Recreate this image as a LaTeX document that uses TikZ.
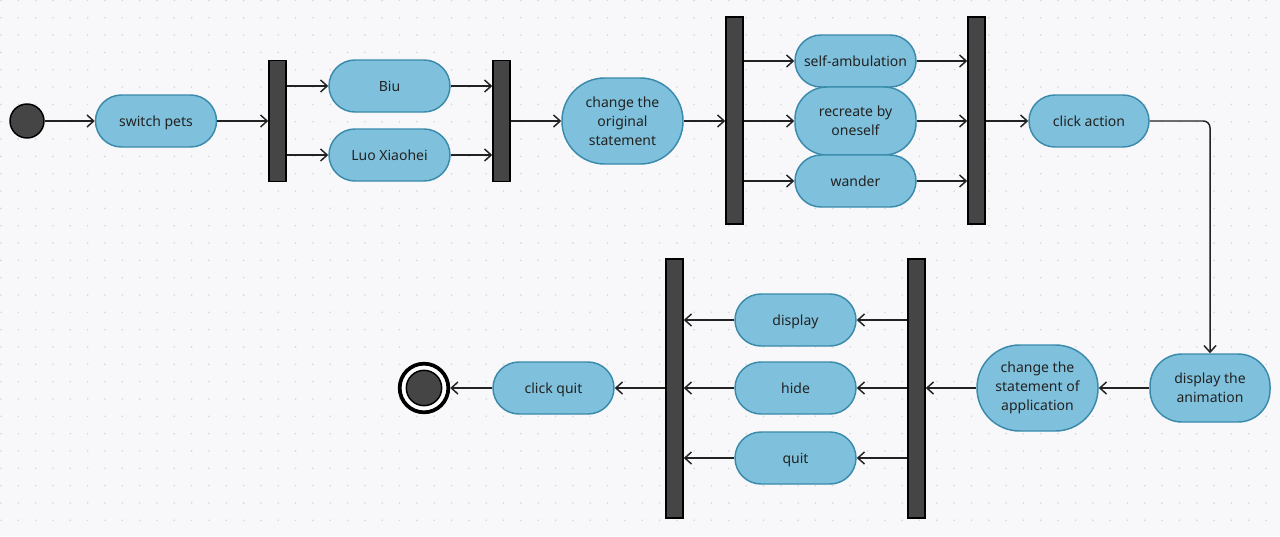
\documentclass[tikz,border=0pt]{standalone}
\usepackage{fontspec}
\setmainfont{Noto Sans}
\usetikzlibrary{arrows.meta}
\definecolor{bgc}{HTML}{F8F8FA}
\definecolor{dotc}{HTML}{D6D6DC}
\definecolor{actfill}{HTML}{7FC1DC}
\definecolor{actdraw}{HTML}{3A8AAB}
\definecolor{barfill}{HTML}{454545}
\definecolor{linec}{HTML}{222222}
\tikzset{
  act/.style={draw=actdraw, fill=actfill, line width=1.1pt, rounded corners=19.5pt,
    minimum width=90.75pt, minimum height=39pt, inner sep=0pt, align=center,
    text=linec, font=\fontsize{10.5}{14.25}\selectfont},
  actone/.style={act, text height=8pt, text depth=0pt},
  acttall/.style={act, minimum height=51pt, rounded corners=24pt},
  actoval/.style={act, minimum height=64.5pt, rounded corners=32pt},
  bar/.style={draw=black, fill=barfill, line width=1.1pt, minimum width=12.75pt, inner sep=0pt},
  arr/.style={draw=linec, line width=1.1pt, -{Straight Barb[length=5pt,width=9pt,line width=1.1pt]}},
}
\begin{document}
\begin{tikzpicture}[x=0.75pt,y=-0.75pt]
\fill[bgc] (0,0) rectangle (1280,536);
\useasboundingbox (0,0) rectangle (1280,536);
\foreach \i in {0,...,73}{
  \foreach \j in {0,...,30}{
    \fill[dotc] ({1+17.33*\i},{0.4+17.33*\j}) circle (0.9);
  }
}
% start
\node[circle, draw=black, fill=barfill, line width=1.1pt, minimum size=25.5pt, inner sep=0pt] (start) at (27,121) {};
\node[actone] (sp) at (156,121) {switch pets};
\node[bar, minimum height=90.75pt] (b1) at (277.5,121) {};
\node[actone] (biu) at (389.5,86) {Biu};
\node[actone] (luo) at (389.5,155) {Luo Xiaohei};
\node[bar, minimum height=90.75pt] (b2) at (501.5,121) {};
\node[actoval] (cos) at (622.5,121) {change the\\original\\statement};
\node[bar, minimum height=155.25pt] (b3) at (734.5,120.5) {};
\node[actone] (sa) at (855.5,61) {self-ambulation};
\node[acttall] (rec) at (855.5,121) {recreate by\\oneself};
\node[actone] (wan) at (855.5,181) {wander};
\node[bar, minimum height=155.25pt] (b4) at (976.5,120.5) {};
\node[actone, minimum width=90pt] (ca) at (1089,121) {click action};
\node[acttall, minimum width=90pt] (da) at (1210,388) {display the\\animation};
\node[actoval] (csa) at (1037.5,388) {change the\\statement of\\application};
\node[bar, minimum height=194.25pt] (b5) at (916.5,388.5) {};
\node[actone] (dis) at (795.5,320) {display};
\node[actone] (hid) at (795.5,388) {hide};
\node[actone] (qui) at (795.5,458) {quit};
\node[bar, minimum height=194.25pt] (b6) at (674.5,388.5) {};
\node[actone] (cq) at (553.5,388) {click quit};
\node[circle, draw=black, fill=white, line width=2.8pt, minimum size=36.5pt, inner sep=0pt] (endo) at (424,388) {};
\node[circle, draw=black, fill=barfill, line width=1.1pt, minimum size=26.5pt, inner sep=0pt] (endi) at (424,388) {};
% connectors
\draw[arr] (start) -- (sp);
\draw[arr] (sp) -- (b1);
\draw[arr] (b1.east |- biu) -- (biu);
\draw[arr] (b1.east |- luo) -- (luo);
\draw[arr] (biu) -- (b2.west |- biu);
\draw[arr] (luo) -- (b2.west |- luo);
\draw[arr] (b2.east |- cos) -- (cos);
\draw[arr] (cos) -- (b3.west |- cos);
\draw[arr] (b3.east |- sa) -- (sa);
\draw[arr] (b3.east |- rec) -- (rec);
\draw[arr] (b3.east |- wan) -- (wan);
\draw[arr] (sa) -- (b4.west |- sa);
\draw[arr] (rec) -- (b4.west |- rec);
\draw[arr] (wan) -- (b4.west |- wan);
\draw[arr] (b4.east |- ca) -- (ca);
\draw[arr, rounded corners=5pt] (ca.east) -| (da.north);
\draw[arr] (da) -- (csa);
\draw[arr] (csa) -- (b5.east |- csa);
\draw[arr] (b5.west |- dis) -- (dis);
\draw[arr] (b5.west |- hid) -- (hid);
\draw[arr] (b5.west |- qui) -- (qui);
\draw[arr] (dis) -- (b6.east |- dis);
\draw[arr] (hid) -- (b6.east |- hid);
\draw[arr] (qui) -- (b6.east |- qui);
\draw[arr] (b6.west |- cq) -- (cq);
\draw[arr] (cq) -- (endo);
\end{tikzpicture}
\end{document}
